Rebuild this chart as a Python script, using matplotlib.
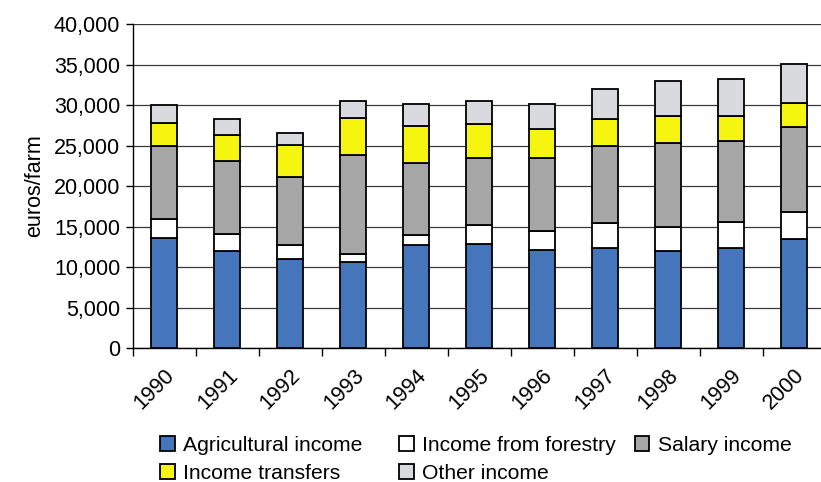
import matplotlib
matplotlib.use("Agg")
import matplotlib.pyplot as plt
from matplotlib.patches import Patch
from matplotlib.ticker import FuncFormatter
import numpy as np

plt.rcParams['font.family'] = ['Liberation Sans', 'DejaVu Sans']

years = ['1990', '1991', '1992', '1993', '1994', '1995',
         '1996', '1997', '1998', '1999', '2000']
agricultural = [13600, 12000, 11000, 10600, 12750, 12800, 12100, 12350, 11950, 12300, 13450]
forestry     = [2350, 2100, 1750, 1050, 1150, 2450, 2350, 3050, 3050, 3250, 3300]
salary       = [9000, 9000, 8400, 12150, 8950, 8250, 9000, 9600, 10350, 10000, 10600]
transfers    = [2800, 3250, 3950, 4600, 4550, 4150, 3650, 3300, 3300, 3100, 2850]
other        = [2250, 1900, 1500, 2050, 2700, 2800, 3000, 3650, 4300, 4550, 4850]

series = [
    ('Agricultural income', agricultural, '#4575BB'),
    ('Income from forestry', forestry, '#FFFFFF'),
    ('Salary income', salary, '#A6A6A6'),
    ('Income transfers', transfers, '#F5F50F'),
    ('Other income', other, '#D9DADE'),
]

fig = plt.figure(figsize=(8.21, 4.82), dpi=100)
ax = fig.add_axes([0.1616, 0.278, 0.844, 0.672])

x = np.arange(len(years))
bottom = np.zeros(len(years))
handles = {}
for name, vals, color in series:
    ax.bar(x, vals, width=0.41, bottom=bottom, color=color,
           edgecolor='black', linewidth=1.3, zorder=3)
    bottom += np.array(vals)
    handles[name] = Patch(facecolor=color, edgecolor='black', linewidth=1.3)

ax.set_xlim(-0.5, len(years) - 0.5)
ax.set_ylim(0, 40000)
ax.set_yticks(np.arange(0, 40001, 5000))
ax.yaxis.set_major_formatter(FuncFormatter(lambda v, p: f'{int(v):,}'))
ax.grid(axis='y', color='#3a3a3a', linewidth=0.9, zorder=0)

ax.set_xticks(np.arange(-0.5, len(years), 1.0))
ax.set_xticklabels([])
ax.set_xticks(x, years, minor=True)
ax.tick_params(axis='x', which='major', length=6, width=1, color='black', direction='out')
ax.tick_params(axis='x', which='minor', length=0, pad=12)
for lbl in ax.get_xticklabels(minor=True):
    lbl.set_rotation(45)
    lbl.set_ha('right')
    lbl.set_rotation_mode('anchor')
    lbl.set_fontsize(15.5)
ax.tick_params(axis='y', length=5, width=1, labelsize=15.5, pad=4)

for s in ['top', 'right']:
    ax.spines[s].set_visible(False)
ax.spines['left'].set_linewidth(1)
ax.spines['bottom'].set_linewidth(1)

ax.set_ylabel('euros/farm', fontsize=15.5, labelpad=6)

# Legend laid out as three fixed-width columns
legend_columns = [
    (0.195, ['Agricultural income', 'Income transfers']),
    (0.486, ['Income from forestry', 'Other income']),
    (0.773, ['Salary income']),
]
for xpos, names in legend_columns:
    fig.legend([handles[n] for n in names], names, ncol=1, loc='upper left',
               bbox_to_anchor=(xpos, 0.095), bbox_transform=fig.transFigure,
               frameon=False, fontsize=15.2,
               handlelength=0.7, handleheight=0.7, handletextpad=0.4,
               labelspacing=0.42, borderaxespad=0.0, borderpad=0.0)

fig.savefig('out.png', dpi=100)
